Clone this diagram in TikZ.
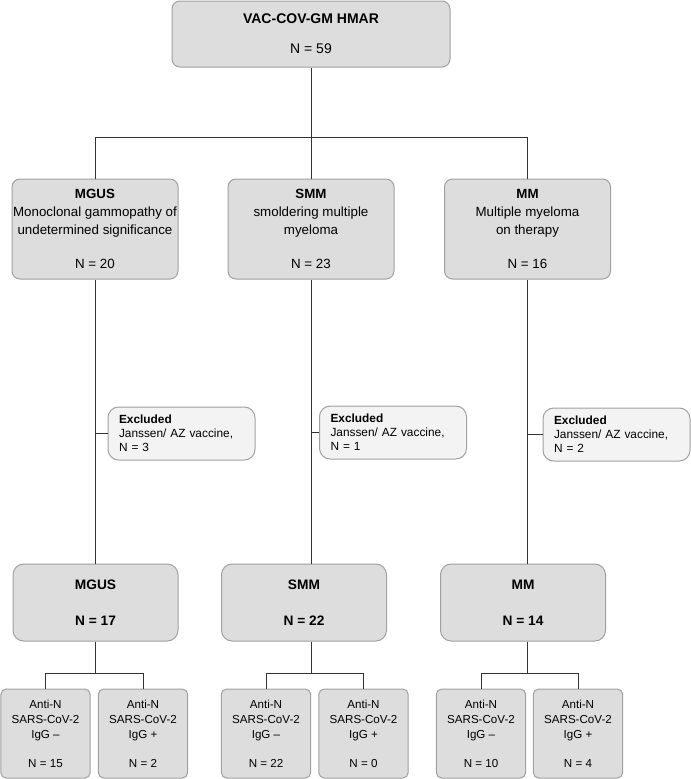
\documentclass[tikz,border=0pt]{standalone}
\usepackage{fontspec}
\setmainfont{Liberation Sans}
\definecolor{boxfill}{HTML}{DDDDDD}
\definecolor{boxline}{HTML}{A0A0A0}
\definecolor{exfill}{HTML}{F3F3F3}
\definecolor{linkcol}{HTML}{333333}
\begin{document}
\begin{tikzpicture}[x=0.75pt,y=-0.75pt,
	box/.style={draw=boxline, fill=boxfill, line width=0.75pt, inner sep=0pt, align=center},
	topbox/.style={box, rounded corners=6pt, minimum width=208.5pt, minimum height=49.5pt, font=\fontsize{10.5}{12.6}\selectfont},
	groupbox/.style={box, rounded corners=6pt, minimum width=124.5pt, minimum height=75pt, font=\fontsize{10}{13.5}\selectfont},
	sumbox/.style={box, rounded corners=8pt, minimum width=123.75pt, minimum height=57.75pt, font=\fontsize{10.3}{12.4}\selectfont\bfseries},
	leafbox/.style={box, rounded corners=4pt, minimum width=67pt, minimum height=66.75pt, font=\fontsize{8.7}{11.25}\selectfont},
	exbox/.style={box, fill=exfill, align=left, rounded corners=8pt, minimum width=110.25pt, minimum height=39.75pt, text width=93.75pt, font=\fontsize{8.9}{10.5}\selectfont},
	link/.style={draw=linkcol, line width=0.75pt}]

	\useasboundingbox (0,0) rectangle (691,779);

	% Kohorte
	\node[topbox] (top) at (311,34) {\textbf{VAC-COV-GM HMAR}\\[9.9pt]N = 59};

	% Gruppen
	\node[groupbox] (mgus) at (95,229) {\textbf{MGUS}\\Monoclonal gammopathy of\\undetermined significance\\[12pt]N = 20};
	\node[groupbox] (smm) at (311,229) {\textbf{SMM}\\smoldering multiple\\myeloma\\[12pt]N = 23};
	\node[groupbox] (mm) at (527.5,229) {\textbf{MM}\\Multiple myeloma\\on therapy\\[12pt]N = 16};

	% Ausgeschlossen
	\node[exbox] (exMgus) at (181.5,433.5) {\textbf{Excluded}\\Janssen/ AZ vaccine,\\N = 3};
	\node[exbox] (exSmm) at (393,432.5) {\textbf{Excluded}\\Janssen/ AZ vaccine,\\N = 1};
	\node[exbox] (exMm) at (616.5,434.5) {\textbf{Excluded}\\Janssen/ AZ vaccine,\\N = 2};

	% Verbleibend
	\node[sumbox] (bMgus) at (95.5,602.5) {MGUS\\[14.6pt]N = 17};
	\node[sumbox] (bSmm) at (304,602.5) {SMM\\[14.6pt]N = 22};
	\node[sumbox] (bMm) at (523,602.5) {MM\\[14.6pt]N = 14};

	% Anti-N
	\node[leafbox] (mgusNeg) at (45.5,733.5) {Anti-N\\SARS-CoV-2\\IgG \textendash\\[10.5pt]N = 15};
	\node[leafbox] (mgusPos) at (143,733.5) {Anti-N\\SARS-CoV-2\\IgG +\\[10.5pt]N = 2};
	\node[leafbox] (smmNeg) at (266,733.5) {Anti-N\\SARS-CoV-2\\IgG \textendash\\[10.5pt]N = 22};
	\node[leafbox] (smmPos) at (363.5,733.5) {Anti-N\\SARS-CoV-2\\IgG +\\[10.5pt]N = 0};
	\node[leafbox] (mmNeg) at (481,733.5) {Anti-N\\SARS-CoV-2\\IgG \textendash\\[10.5pt]N = 10};
	\node[leafbox] (mmPos) at (578,733.5) {Anti-N\\SARS-CoV-2\\IgG +\\[10.5pt]N = 4};

	% Verbindungen
	\coordinate (split) at (311,137);
	\draw[link] (top.south) -- (split);
	\draw[link] (split -| mgus.north) -- (split -| mm.north);
	\foreach \g/\b/\e in {mgus/bMgus/exMgus, smm/bSmm/exSmm, mm/bMm/exMm}{
		\draw[link] (split -| \g.north) -- (\g.north);
		\draw[link] (\g.south) -- (\g.south |- \b.north);
		\draw[link] (\e.west) -- (\e.west -| \g.south);
		\draw[link] (\g.south |- \b.south) -- ++(0,32) coordinate (\b-fork);
	}
	\draw[link] (bMgus-fork) -| (mgusNeg.north);
	\draw[link] (bMgus-fork) -| (mgusPos.north);
	\draw[link] (bSmm-fork) -| (smmNeg.north);
	\draw[link] (bSmm-fork) -| (smmPos.north);
	\draw[link] (bMm-fork) -| (mmNeg.north);
	\draw[link] (bMm-fork) -| (mmPos.north);

\end{tikzpicture}
\end{document}
